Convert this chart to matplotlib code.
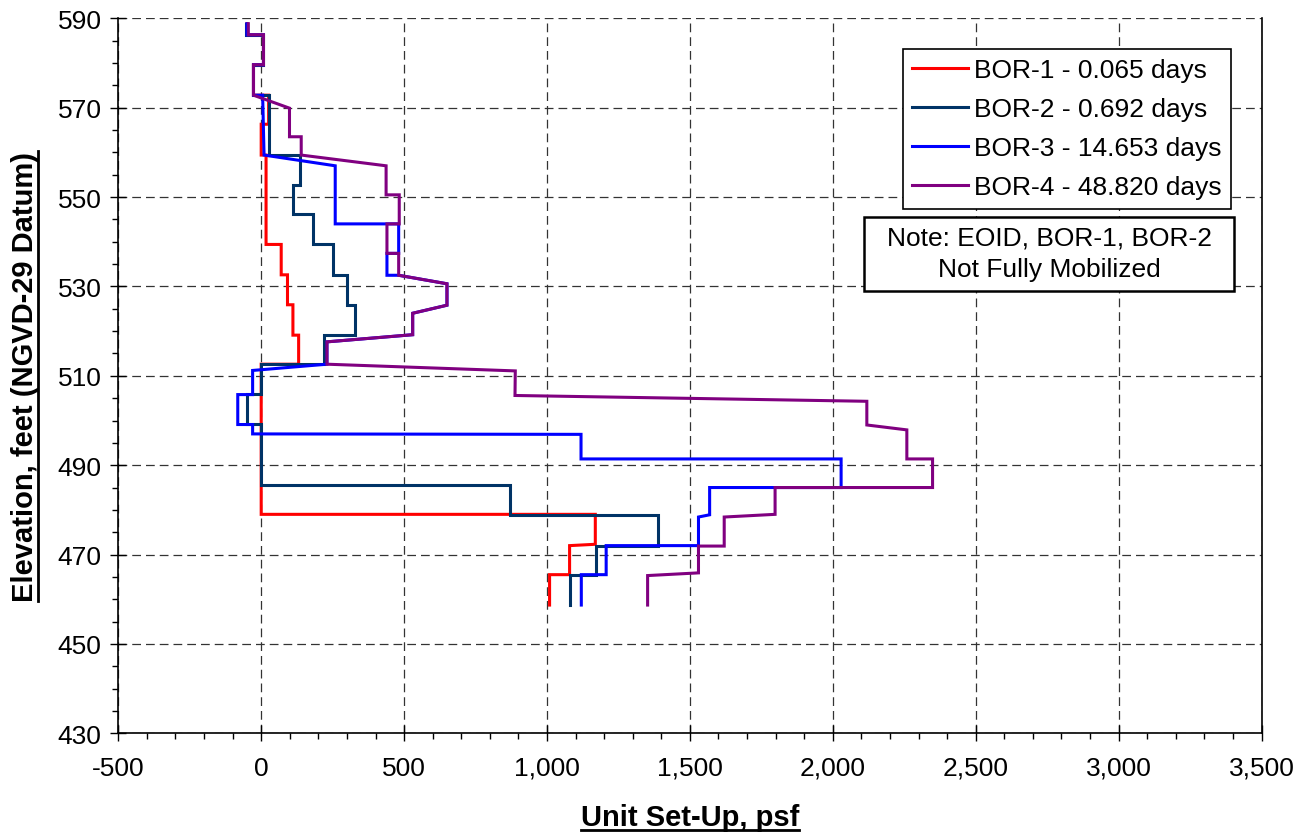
import numpy as np
import matplotlib
matplotlib.use("Agg")
import matplotlib.pyplot as plt
from matplotlib.ticker import MultipleLocator, FuncFormatter
from matplotlib.lines import Line2D
from matplotlib.patches import Rectangle

plt.rcParams['font.family'] = ['Liberation Sans', 'DejaVu Sans']

# unit set-up (psf) vs elevation (ft) for each restrike
bor1_x = [-50, -50, 8, 8, -27, -27, 26, 26, 0, 0, 17, 17, 70, 70, 92, 92, 111, 111,
          131, 131, 0, 0, 1169, 1169, 1079, 1079, 1009, 1009]
bor1_y = [588.8, 586.3, 586.3, 579.6, 579.6, 572.8, 572.8, 566.3, 566.3, 559.4, 559.4,
          539.4, 539.4, 532.6, 532.6, 525.9, 525.9, 519.1, 519.1, 512.6, 512.6, 479.0,
          479.0, 472.3, 472.0, 465.5, 465.5, 458.7]

bor2_x = [-52, -52, 8, 8, -27, -27, 29, 29, 137, 137, 111, 111, 180, 180, 251, 251,
          300, 300, 329, 329, 220, 220, 0, 0, -50, -50, 0, 0, 869, 869, 1390, 1390,
          1171, 1171, 1081, 1081]
bor2_y = [588.8, 586.3, 586.3, 579.6, 579.6, 572.8, 572.8, 559.4, 559.4, 552.6, 552.6,
          546.2, 546.2, 539.4, 539.4, 532.6, 532.6, 525.9, 525.9, 519.1, 519.1, 512.6,
          512.6, 505.9, 505.9, 499.2, 499.2, 485.6, 485.6, 478.9, 478.9, 472.0, 472.0,
          465.4, 465.4, 458.7]

bor3_x = [-50, -50, 8, 8, -27, -27, 5, 10, 259, 259, 481, 481, 440, 440, 481, 650, 650,
          530, 530, 230, 230, -30, -30, -82, -82, -30, -30, 1119, 1119, 2029, 2029,
          1569, 1569, 1530, 1530, 1207, 1207, 1120, 1120]
bor3_y = [588.8, 586.3, 586.3, 579.6, 579.6, 572.8, 572.8, 559.4, 557.0, 544.0, 544.0,
          537.4, 537.4, 532.5, 532.5, 530.6, 525.8, 524.0, 519.2, 517.6, 512.6, 511.2,
          505.8, 505.8, 499.1, 499.1, 497.0, 496.9, 491.4, 491.4, 485.0, 485.0, 478.9,
          478.4, 472.0, 472.0, 465.5, 465.5, 458.7]

bor4_x = [-45, -45, 8, 8, -27, -27, 99, 99, 140, 140, 437, 437, 483, 483, 440, 440,
          481, 481, 650, 650, 530, 530, 230, 230, 889, 888, 2119, 2119, 2259, 2259,
          2349, 2349, 1798, 1798, 1620, 1620, 1530, 1530, 1352, 1352]
bor4_y = [588.8, 586.3, 586.3, 579.6, 579.6, 572.8, 569.9, 563.5, 563.5, 559.4, 557.0,
          550.5, 550.5, 544.0, 544.0, 537.4, 537.4, 532.5, 530.6, 525.8, 524.0, 519.2,
          517.6, 512.6, 511.1, 505.6, 504.3, 499.0, 497.9, 491.4, 491.4, 485.0, 485.0,
          479.0, 478.4, 471.9, 471.9, 465.9, 465.3, 458.7]

labels = ["BOR-1 - 0.065 days", "BOR-2 - 0.692 days",
          "BOR-3 - 14.653 days", "BOR-4 - 48.820 days"]
colors = ["#ff0000", "#003366", "#0000ff", "#800080"]

fig = plt.figure(figsize=(13.1, 8.37), dpi=100)
ax = fig.add_axes([0.0903, 0.1227, 0.8727, 0.8542])

series = [(bor1_x, bor1_y), (bor2_x, bor2_y), (bor3_x, bor3_y), (bor4_x, bor4_y)]
for (xs, ys), lab, c in zip(series, labels, colors):
    ax.plot(xs, ys, color=c, lw=2.2, label=lab, solid_joinstyle='miter')

ax.set_xlim(-500, 3500)
ax.set_ylim(430, 590)
ax.xaxis.set_major_locator(MultipleLocator(500))
ax.xaxis.set_minor_locator(MultipleLocator(100))
ax.set_yticks(np.arange(430, 591, 20))
ax.yaxis.set_minor_locator(MultipleLocator(5))
ax.xaxis.set_major_formatter(FuncFormatter(lambda v, p: "{:,.0f}".format(v)))
ax.yaxis.set_major_formatter(FuncFormatter(lambda v, p: "{:.0f}".format(v)))

ax.tick_params(which='major', direction='inout', length=12, width=1.0,
               labelsize=19, color='black')
ax.tick_params(which='minor', direction='out', length=4.5, width=1.0)
ax.tick_params(axis='x', which='major', pad=10)
ax.tick_params(axis='y', which='major', pad=6)

ax.grid(True, which='major', color='#333333', lw=0.9, dashes=(7, 4))
ax.spines['top'].set_visible(False)
for s in ['left', 'bottom', 'right']:
    ax.spines[s].set_linewidth(1.2)

leg = ax.legend(loc='upper right', bbox_to_anchor=(0.9733, 0.957), borderaxespad=0,
                fontsize=19, fancybox=False, framealpha=1, edgecolor='black',
                handlelength=2.1, handletextpad=0.25, labelspacing=0.57,
                borderpad=0.35)
leg.get_frame().set_linewidth(1.2)

ax.add_patch(Rectangle((0.6523, 0.619), 0.3237, 0.1031, transform=ax.transAxes,
                       facecolor='white', edgecolor='black', lw=1.8, zorder=5))
ax.text(0.8141, 0.6717, "Note: EOID, BOR-1, BOR-2\nNot Fully Mobilized",
        transform=ax.transAxes, ha='center', va='center', fontsize=19,
        linespacing=1.4, zorder=6)

xl = fig.text(0.5267, 0.0227, "Unit Set-Up, psf", ha='center', va='center',
              fontsize=21, fontweight='bold')
yl = fig.text(0.019, 0.5498, "Elevation, feet (NGVD-29 Datum)", ha='center',
              va='center', rotation=90, fontsize=21, fontweight='bold')

# underline the axis titles
fig.canvas.draw()
r = fig.canvas.get_renderer()
inv = fig.transFigure.inverted()
bb = xl.get_window_extent(r)
(x0, y0), (x1, _) = inv.transform([(bb.x0, bb.y0 + 1), (bb.x1, bb.y0)])
fig.add_artist(Line2D([x0, x1], [y0, y0], color='black', lw=2.0, transform=fig.transFigure))
bb = yl.get_window_extent(r)
(x0, y0), (_, y1) = inv.transform([(bb.x1 - 1, bb.y0), (bb.x1, bb.y1)])
fig.add_artist(Line2D([x0, x0], [y0, y1], color='black', lw=2.0, transform=fig.transFigure))

fig.savefig("out.png", dpi=100)
